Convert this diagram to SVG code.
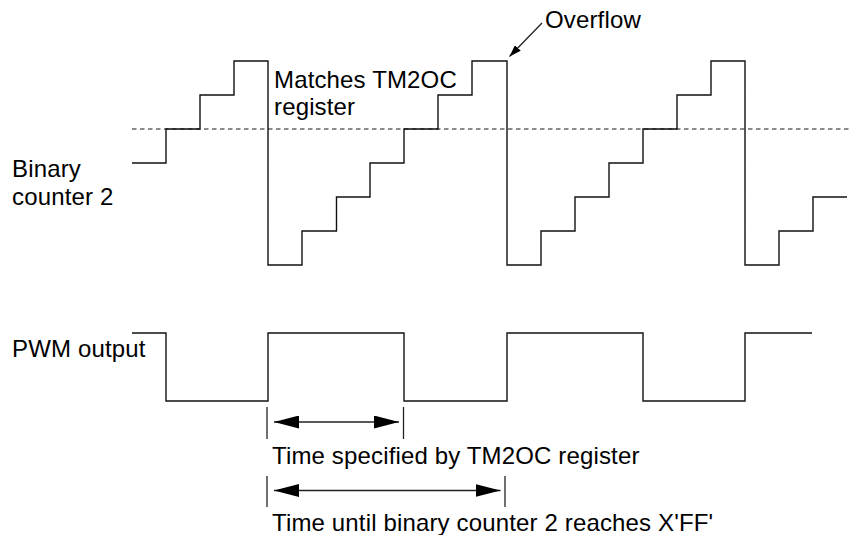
<svg xmlns="http://www.w3.org/2000/svg" width="849" height="535" viewBox="0 0 849 535">
<style>
text{font-family:"Liberation Sans",Arial,sans-serif;font-size:24px;letter-spacing:0.15px;fill:#000}
.wave{fill:none;stroke:#111;stroke-width:1.4;stroke-linejoin:miter}
.dash{fill:none;stroke:#666;stroke-width:1.4;stroke-dasharray:4.5 3.5}
.tick{stroke:#222;stroke-width:1.3}
.dim{stroke:#222;stroke-width:1.3;fill:none}
</style>
<defs>
<marker id="dimhead" viewBox="0 0 25 13" refX="25" refY="6.5" markerWidth="25" markerHeight="13" markerUnits="userSpaceOnUse" orient="auto-start-reverse">
<path d="M0,0 L25,6.5 L0,13 z" fill="#000"/>
</marker>
<marker id="smallhead" viewBox="0 0 12 8" refX="12" refY="4" markerWidth="12" markerHeight="8" markerUnits="userSpaceOnUse" orient="auto">
<path d="M0,0 L12,4 L0,8 z" fill="#000"/>
</marker>
</defs>
<rect width="849" height="535" fill="#fff"/>

<g id="match-level">
<line class="dash" x1="132" y1="129" x2="849" y2="129"/>
</g>

<g id="counter-waveform">
<path class="wave" d="M132,163 H166 V129 H200 V95 H234 V61 H268 V265 H302 V231 H336.5 V197 H370 V163 H404 V129 H438 V95 H472 V61 H507 V265 H541 V231 H575 V197 H609 V163 H643 V129 H677 V95 H711 V61 H745 V265 H779 V231 H813 V197 H847"/>
</g>

<g id="pwm-waveform">
<path class="wave" d="M132,333 H166 V401 H268 V333 H404 V401 H507 V333 H643 V401 H745 V333 H812"/>
</g>

<g id="counter-label">
<text x="12" y="177">Binary</text>
<text x="12" y="205">counter 2</text>
</g>

<g id="pwm-label">
<text x="12" y="357">PWM output</text>
</g>

<g id="match-label">
<text x="274" y="87.5">Matches TM2OC</text>
<text x="274" y="114.5">register</text>
</g>

<g id="overflow-label">
<text x="545" y="28">Overflow</text>
</g>

<g id="dim-tm2oc">
<line class="tick" x1="267" y1="407" x2="267" y2="439"/>
<line class="tick" x1="403.5" y1="407" x2="403.5" y2="439"/>
<text x="272" y="464">Time specified by TM2OC register</text>
</g>

<g id="dim-ff">
<line class="tick" x1="267" y1="476" x2="267" y2="507"/>
<line class="tick" x1="505" y1="476" x2="505" y2="507"/>
<text x="272" y="531">Time until binary counter 2 reaches X'FF'</text>
</g>

<g id="connectors">
<line class="dim" x1="274" y1="422" x2="399" y2="422" marker-start="url(#dimhead)" marker-end="url(#dimhead)"/>
<line class="dim" x1="274" y1="490.5" x2="500.5" y2="490.5" marker-start="url(#dimhead)" marker-end="url(#dimhead)"/>
<line class="dim" x1="542" y1="23" x2="509.5" y2="56.5" marker-end="url(#smallhead)"/>
</g>
</svg>
